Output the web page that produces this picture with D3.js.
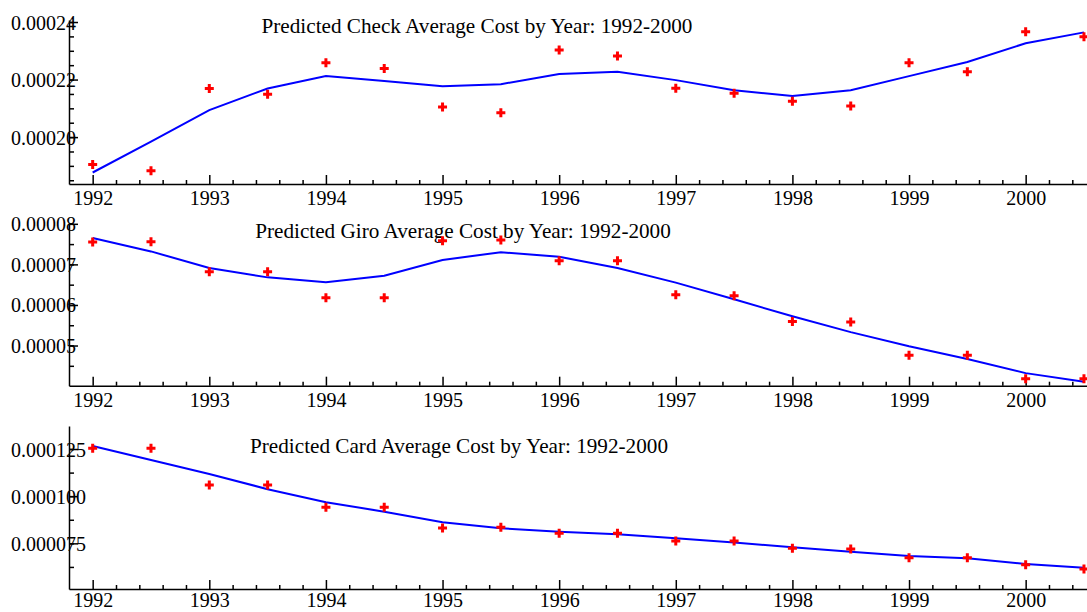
<!DOCTYPE html>
<html>
<head>
<meta charset="utf-8">
<script src="https://cdn.jsdelivr.net/npm/d3@7"></script>
<style>
  body { margin: 0; background: #fff; }
  svg { display: block; }
  text { font-family: "Liberation Serif", "Times New Roman", serif; fill: #000; }
  .axis path, .axis line { stroke: #000; stroke-width: 1.5; }
</style>
</head>
<body>
<div class="visualisation"></div>
<script>
// years observed (half-year steps)
const years = [1992, 1992.5, 1993, 1993.5, 1994, 1994.5, 1995, 1995.5, 1996,
  1996.5, 1997, 1997.5, 1998, 1998.5, 1999, 1999.5, 2000, 2000.5];

const checkObserved = [0.0001905, 0.0001883, 0.0002169, 0.0002149, 0.0002258, 0.0002238,
  0.0002105, 0.0002085, 0.0002303, 0.0002282, 0.0002170, 0.0002152,
  0.0002125, 0.0002108, 0.0002258, 0.0002227, 0.0002366, 0.0002349];
const checkFitted = [0.0001877, 0.0001984, 0.0002094, 0.0002169, 0.0002212, 0.0002195,
  0.0002177, 0.0002184, 0.0002219, 0.0002227, 0.0002198, 0.0002163,
  0.0002143, 0.0002163, 0.0002212, 0.0002261, 0.0002326, 0.0002364];

const giroObserved = [0.0000755, 0.0000756, 0.0000682, 0.0000682, 0.0000618, 0.0000618,
  0.0000758, 0.0000760, 0.0000709, 0.0000709, 0.0000625, 0.0000623,
  0.0000559, 0.0000558, 0.0000476, 0.0000476, 0.0000418, 0.0000418];
const giroFitted = [0.0000765, 0.0000732, 0.0000691, 0.0000668, 0.0000656, 0.0000672,
  0.0000711, 0.0000730, 0.0000719, 0.0000691, 0.0000655, 0.0000614,
  0.0000572, 0.0000533, 0.0000498, 0.0000467, 0.0000432, 0.0000411];

const cardObserved = [0.0001254, 0.0001254, 0.0001059, 0.0001059, 0.0000941, 0.0000941,
  0.0000832, 0.0000835, 0.0000803, 0.0000803, 0.0000763, 0.0000763,
  0.0000724, 0.0000720, 0.0000674, 0.0000674, 0.0000636, 0.0000614];
const cardFitted = [0.0001266, 0.0001192, 0.0001118, 0.0001037, 0.0000968, 0.0000918,
  0.0000862, 0.0000830, 0.0000812, 0.0000798, 0.0000777, 0.0000754,
  0.0000729, 0.0000706, 0.0000683, 0.0000671, 0.0000641, 0.0000621];

const xTickValues = [1992, 1993, 1994, 1995, 1996, 1997, 1998, 1999, 2000];
const xTickLabels = ["1992", "1993", "1994", "1995", "1996", "1997", "1998", "1999", "2000"];

const checkTicks = [0.00020, 0.00022, 0.00024];
const checkTickLabels = ["0.00020", "0.00022", "0.00024"];
const giroTicks = [0.00005, 0.00006, 0.00007, 0.00008];
const giroTickLabels = ["0.00005", "0.00006", "0.00007", "0.00008"];
const cardTicks = [0.000075, 0.000100, 0.000125];
const cardTickLabels = ["0.000075", "0.000100", "0.000125"];

const titles = [
  "Predicted Check Average Cost by Year: 1992-2000",
  "Predicted Giro Average Cost by Year: 1992-2000",
  "Predicted Card Average Cost by Year: 1992-2000"
];

const wdth = 1087, hght = 612;
const axisLeft = 69;

const svg = d3.select(".visualisation")
  .append("svg")
  .attr("width", wdth)
  .attr("height", hght);

const x = d3.scaleLinear()
  .domain([1991.797, 2000.526])
  .range([axisLeft, wdth]);

// panel layout: pixel bottom/top of each plot and the value range
const panels = [
  { obs: checkObserved, fit: checkFitted, ticks: checkTicks, labels: checkTickLabels,
    domain: [0.0001837, 0.0002407], bottom: 184, top: 20, minorStep: 0.000005,
    title: titles[0], titleX: 477, titleY: 33, pad: 7 },
  { obs: giroObserved, fit: giroFitted, ticks: giroTicks, labels: giroTickLabels,
    domain: [0.0000401, 0.0000802], bottom: 385.7, top: 223, minorStep: 0.000005,
    title: titles[1], titleX: 463, titleY: 238, pad: 7 },
  { obs: cardObserved, fit: cardFitted, ticks: cardTicks, labels: cardTickLabels,
    domain: [0.0000508, 0.0001372], bottom: 589, top: 426, minorStep: 0.0000125,
    title: titles[2], titleX: 459, titleY: 453, pad: 4 }
];

const cross = d3.symbol().type(d3.symbolCross).size(45);

panels.forEach(p => {
  const y = d3.scaleLinear().domain(p.domain).range([p.bottom, p.top]);
  const g = svg.append("g");

  // minor ticks
  const xMinor = d3.range(1992, 2000.6, 0.2).filter(v => Math.abs(v - Math.round(v)) > 0.01);
  g.append("g")
    .attr("class", "axis")
    .attr("transform", `translate(0,${p.bottom})`)
    .call(d3.axisBottom(x).tickValues(xMinor).tickSize(-4).tickSizeOuter(0).tickFormat(""))
    .select(".domain").remove();

  const yMinor = d3.range(Math.ceil(p.domain[0] / p.minorStep), Math.floor(p.domain[1] / p.minorStep) + 1)
    .map(i => i * p.minorStep);
  g.append("g")
    .attr("class", "axis")
    .attr("transform", `translate(${axisLeft},0)`)
    .call(d3.axisLeft(y).tickValues(yMinor).tickSize(-5).tickSizeOuter(0).tickFormat(""))
    .select(".domain").remove();

  // major x axis
  g.append("g")
    .attr("class", "axis")
    .attr("transform", `translate(0,${p.bottom})`)
    .call(d3.axisBottom(x)
      .tickValues(xTickValues)
      .tickFormat((d, i) => xTickLabels[i])
      .tickSize(-9)
      .tickSizeOuter(0)
      .tickPadding(p.pad))
    .call(ax => ax.selectAll("text")
      .attr("font-size", 20)
      .attr("font-family", "Liberation Serif"));

  // major y axis
  g.append("g")
    .attr("class", "axis")
    .attr("transform", `translate(${axisLeft},0)`)
    .call(d3.axisLeft(y)
      .tickValues(p.ticks)
      .tickFormat((d, i) => p.labels[i])
      .tickSize(-9)
      .tickSizeOuter(0))
    .call(ax => ax.selectAll("text")
      .attr("text-anchor", "start")
      .attr("x", 11 - axisLeft)
      .attr("dy", "0.35em")
      .attr("font-size", 20)
      .attr("font-family", "Liberation Serif"));

  // title
  g.append("text")
    .attr("x", p.titleX)
    .attr("y", p.titleY)
    .attr("text-anchor", "middle")
    .attr("font-size", 21.2)
    .text(p.title);

  // fitted line
  g.append("path")
    .datum(years.map((yr, i) => [yr, p.fit[i]]))
    .attr("fill", "none")
    .attr("stroke", "#0000ff")
    .attr("stroke-width", 2)
    .attr("d", d3.line().x(d => x(d[0])).y(d => y(d[1])));

  // observed points
  g.selectAll("path.pt")
    .data(years.map((yr, i) => [yr, p.obs[i]]))
    .enter()
    .append("path")
    .attr("class", "pt")
    .attr("d", cross)
    .attr("fill", "#ff0000")
    .attr("transform", d => `translate(${x(d[0])},${y(d[1])})`);
});
</script>
</body>
</html>
